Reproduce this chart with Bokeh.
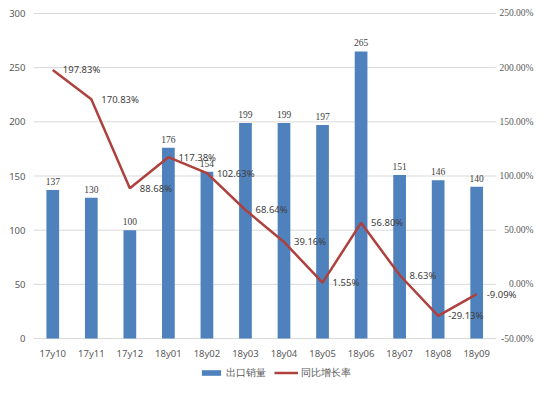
from bokeh.plotting import figure
from bokeh.layouts import column
from bokeh.models import (ColumnDataSource, Range1d, FactorRange, LabelSet, Label,
                          Legend, LegendItem, SingleIntervalTicker)
from bokeh.embed import file_html
from bokeh.resources import INLINE

months = ["17y10", "17y11", "17y12", "18y01", "18y02", "18y03",
          "18y04", "18y05", "18y06", "18y07", "18y08", "18y09"]
export_sales = [137, 130, 100, 176, 154, 199, 199, 197, 265, 151, 146, 140]
yoy_growth = [197.83, 170.83, 88.68, 117.38, 102.63, 68.64,
              39.16, 1.55, 56.80, 8.63, -29.13, -9.09]
left_ticks = [0, 50, 100, 150, 200, 250, 300]
right_ticks = [-50, 0, 50, 100, 150, 200, 250]
series_names = ["出口销量", "同比增长率"]

bar_color = "#4F81BD"
line_color = "#AE413E"
grid_color = "#D9D9D9"
font = "Noto Sans"

# frame geometry (px): plotted span 327 px tall, with 7 px breathing room top and bottom
span_px, pad_px = 327, 7
l_lo, l_hi = left_ticks[0], left_ticks[-1]
r_lo, r_hi = right_ticks[0] / 100, right_ticks[-1] / 100
l_pad = pad_px * (l_hi - l_lo) / span_px
r_pad = pad_px * (r_hi - r_lo) / span_px

src = ColumnDataSource(dict(
    m=months,
    v=export_sales,
    vt=[str(v) for v in export_sales],
    g=[x / 100 for x in yoy_growth],
))

p = figure(width=534, height=362, x_range=FactorRange(*months, " "),
           y_range=Range1d(l_lo - l_pad, l_hi + l_pad),
           output_backend="svg", toolbar_location=None,
           min_border_left=33, min_border_right=0, min_border_top=6, min_border_bottom=15)
p.extra_y_ranges = {"pct": Range1d(r_lo - r_pad, r_hi + r_pad)}
p.outline_line_color = None
p.grid.visible = False
p.x_range.range_padding = 0

# horizontal gridlines spanning the categories only
p.segment(x0=0, x1=len(months), y0=left_ticks, y1=left_ticks,
          line_color=grid_color, line_width=1, level="underlay")

bars = p.vbar(x="m", top="v", width=0.33, source=src, fill_color=bar_color, line_color=None)
line = p.line(x="m", y="g", source=src, y_range_name="pct", line_color=line_color, line_width=2.5)

for ax in [p.xaxis[0], p.yaxis[0]]:
    ax.axis_line_color = None
    ax.major_tick_line_color = None
    ax.minor_tick_line_color = None
    ax.major_tick_out = 0
    ax.major_tick_in = 0
    ax.minor_tick_out = 0
    ax.major_label_text_color = "#595959"
    ax.major_label_text_font = font
    ax.major_label_text_font_size = "9.5px"
p.yaxis[0].ticker = SingleIntervalTicker(interval=50)
p.yaxis[0].major_label_standoff = 8
p.xaxis[0].major_label_standoff = 1

# right-hand percentage scale
rsrc = ColumnDataSource(dict(
    x=[len(months) + 1] * len(right_ticks),
    y=[t / 100 for t in right_ticks],
    t=[f"{t:.2f}%" for t in right_ticks],
))
p.add_layout(LabelSet(x="x", y="y", text="t", source=rsrc, y_range_name="pct",
                      text_align="right", text_baseline="middle", x_offset=-1,
                      text_font=font, text_font_size="9.5px", text_color="#595959"))

bar_labels = LabelSet(x="m", y="v", text="vt", source=src, text_align="center",
                      text_baseline="bottom", y_offset=5, text_font=font,
                      text_font_size="9.5px", text_color="#404040")
p.add_layout(bar_labels)

# percent labels (synthetic categorical coordinate = index + 0.5)
for i, g in enumerate(yoy_growth):
    p.add_layout(Label(x=i + 0.5, y=g / 100, y_range_name="pct", text=f"{g:.2f}%",
                       text_align="left", text_baseline="middle", x_offset=10,
                       text_font=font, text_font_size="9.5px", text_color="#404040"))

# legend strip as a separate small figure
lf = figure(width=534, height=18, x_range=Range1d(0, 1), y_range=Range1d(0, 1),
            output_backend="svg", toolbar_location=None,
            x_axis_location=None, y_axis_location=None, min_border=0)
lf.outline_line_color = None
lf.grid.visible = False
lb = lf.vbar(x=[5], top=[5], bottom=[4], width=0.3, fill_color=bar_color, line_color=None)
ll = lf.line(x=[5, 6], y=[5, 5], line_color=line_color, line_width=2.5)
legend = Legend(items=[LegendItem(label=series_names[0], renderers=[lb]),
                       LegendItem(label=series_names[1], renderers=[ll])],
                orientation="horizontal", location=(166, 0),
                label_text_font=font, label_text_font_size="10px", label_text_color="#595959",
                glyph_width=24, glyph_height=7, label_standoff=3, spacing=8,
                padding=0, margin=0, border_line_color=None, background_fill_alpha=0)
lf.add_layout(legend)

open("out.html", "w").write(file_html(column(p, lf), INLINE))
